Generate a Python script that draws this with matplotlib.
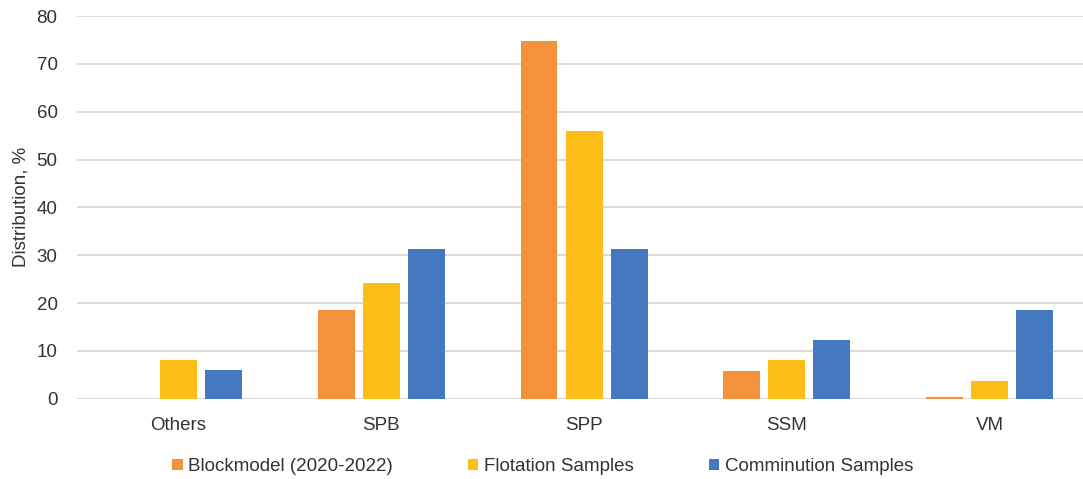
import matplotlib
matplotlib.use("Agg")
import matplotlib.pyplot as plt
import numpy as np

plt.rcParams['font.family'] = ['Liberation Sans', 'DejaVu Sans']

categories = ['Others', 'SPB', 'SPP', 'SSM', 'VM']
blockmodel = [0.0, 18.6, 74.8, 5.8, 0.4]
flotation = [8.1, 24.1, 56.0, 8.1, 3.7]
comminution = [6.1, 31.3, 31.3, 12.3, 18.5]
series = ['Blockmodel (2020-2022)', 'Flotation Samples', 'Comminution Samples']
colors = ['#F3923A', '#FDBF17', '#4479C0']

fs = 13.5
txt = '#333333'

fig = plt.figure(figsize=(10.83, 4.79), dpi=100)
ax = fig.add_axes([77 / 1083, 80.3 / 479, 1006 / 1083, 382.7 / 479])

x = np.arange(len(categories))
w = 0.182
off = 0.222
for i, (vals, name, c) in enumerate(zip([blockmodel, flotation, comminution], series, colors)):
    ax.bar(x + (i - 1) * off, vals, w, color=c, label=name, zorder=3)

ax.set_xlim(-0.5, 4.46)
ax.set_ylim(0, 80)
ax.set_yticks(range(0, 81, 10))
ax.set_xticks(x)
ax.set_xticklabels(categories)
ax.grid(axis='y', color='#D9D3CF', linewidth=1.2, zorder=0)
for s in ax.spines.values():
    s.set_visible(False)
ax.tick_params(axis='both', length=0, labelsize=fs, colors=txt)
ax.tick_params(axis='x', pad=13)
ax.tick_params(axis='y', pad=14)
ax.set_ylabel('Distribution, %', fontsize=fs, color=txt, labelpad=5)

ax.legend(loc='center', bbox_to_anchor=(0.463, -0.178), ncol=3, frameon=False,
          fontsize=fs, handlelength=0.55, handleheight=0.55, handletextpad=0.3,
          columnspacing=4.0, labelcolor=txt)

fig.savefig('out.png', dpi=100)
